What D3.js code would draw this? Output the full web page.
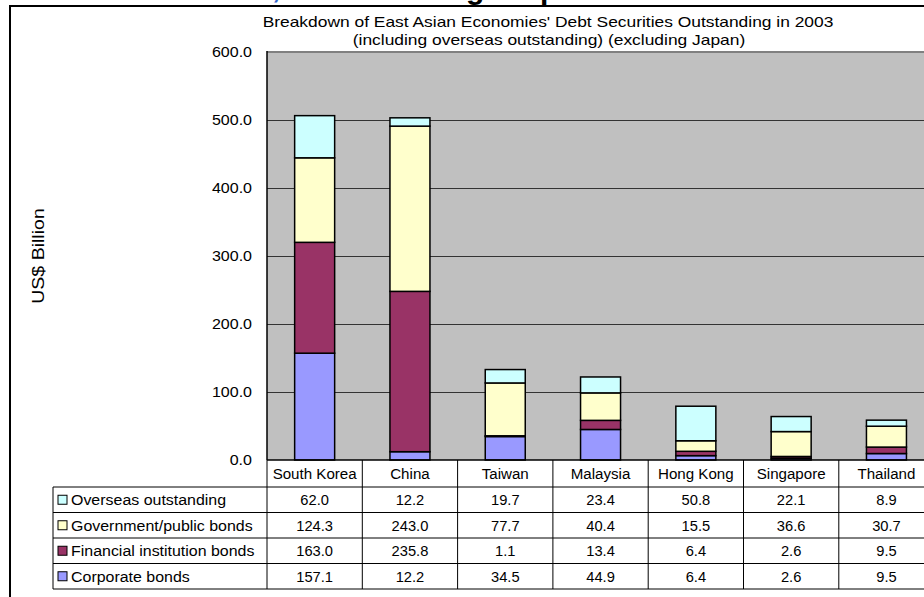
<!DOCTYPE html>
<html>
<head>
<meta charset="utf-8">
<script src="https://cdn.jsdelivr.net/npm/d3@7"></script>
<style>
  html, body { margin: 0; padding: 0; background: #fff; }
  svg { display: block; font-family: "Liberation Sans", Arial, sans-serif; }
</style>
</head>
<body>
<svg id="chart" width="924" height="597"></svg>
<script>
// Debt securities outstanding, 2003, US$ billion
const categories = ["South Korea", "China", "Taiwan", "Malaysia", "Hong Kong", "Singapore", "Thailand"];
const seriesNames = ["Corporate bonds", "Financial institution bonds", "Government/public bonds", "Overseas outstanding"];
const corporate = [157.1, 12.2, 34.5, 44.9, 6.4, 2.6, 9.5];
const financial = [163.0, 235.8, 1.1, 13.4, 6.4, 2.6, 9.5];
const government = [124.3, 243.0, 77.7, 40.4, 15.5, 36.6, 30.7];
const overseas = [62.0, 12.2, 19.7, 23.4, 50.8, 22.1, 8.9];
const yTicks = [0, 100, 200, 300, 400, 500, 600];
const colors = ["#9999FF", "#993366", "#FFFFCC", "#CCFFFF"];

const seriesValues = [corporate, financial, government, overseas];
const rows = categories.map((c, i) => {
  const r = { category: c };
  seriesNames.forEach((s, k) => { r[s] = seriesValues[k][i]; });
  return r;
});
const stacked = d3.stack().keys(seriesNames)(rows);

const svg = d3.select("#chart");

const plotLeft = 267, plotTop = 52, plotBottom = 460;
const catW = 95.3;
const plotRight = plotLeft + catW * categories.length;

const x = d3.scaleBand().domain(categories).range([plotLeft, plotRight]).padding(0);
const y = d3.scaleLinear().domain([0, 600]).range([plotBottom, plotTop]);
const barW = 40;

// text with a slightly widened face
function label(parent, px, py, str, size, sx, anchor) {
  return parent.append("text")
    .attr("transform", `translate(${px},${py}) scale(${sx},1)`)
    .attr("text-anchor", anchor || "start")
    .attr("font-size", size).attr("fill", "#000")
    .text(str);
}

// outer frame
svg.append("path")
  .attr("d", `M10,597 L10,6 L924,6`)
  .attr("fill", "none").attr("stroke", "#000").attr("stroke-width", 2);

// partially visible heading above the frame
svg.append("text").attr("x", 272).attr("y", -2).attr("fill", "#3366cc")
  .attr("font-size", 30).attr("font-weight", "bold").text(",");
svg.append("text").attr("x", 466).attr("y", -1).attr("fill", "#000")
  .attr("font-size", 30).attr("font-weight", "bold").text("g");
svg.append("text").attr("x", 540).attr("y", -1).attr("fill", "#000")
  .attr("font-size", 30).attr("font-weight", "bold").text("p");

// chart title
label(svg, 548, 27, "Breakdown of East Asian Economies' Debt Securities Outstanding in 2003", 15, 1.16, "middle");
label(svg, 549, 45, "(including overseas outstanding) (excluding Japan)", 15, 1.16, "middle");

// plot background
svg.append("rect")
  .attr("x", plotLeft).attr("y", plotTop)
  .attr("width", plotRight - plotLeft).attr("height", plotBottom - plotTop)
  .attr("fill", "#C0C0C0");
svg.append("line")
  .attr("x1", plotLeft).attr("x2", plotRight).attr("y1", plotTop).attr("y2", plotTop)
  .attr("stroke", "#808080").attr("stroke-width", 2);

// gridlines
const grid = svg.append("g").attr("transform", `translate(${plotLeft},0)`)
  .call(d3.axisLeft(y).tickValues(yTicks.filter(t => t > 0 && t < 600))
    .tickSize(-(plotRight - plotLeft)).tickFormat(""));
grid.select(".domain").remove();
grid.selectAll(".tick line").attr("stroke", "#333").attr("stroke-width", 1);

// y axis labels
const yAxis = svg.append("g").attr("transform", `translate(${plotLeft},0)`)
  .call(d3.axisLeft(y).tickValues(yTicks).tickSize(0).tickPadding(15).tickFormat(d3.format(".1f")));
yAxis.select(".domain").remove();
yAxis.selectAll(".tick text")
  .attr("font-size", 15).attr("fill", "#000")
  .attr("font-family", "Liberation Sans, Arial, sans-serif")
  .attr("transform", function () {
    const tx = +d3.select(this).attr("x");
    return `translate(${tx},0) scale(1.07,1) translate(${-tx},0)`;
  });

// axis line
svg.append("line").attr("x1", plotLeft).attr("x2", plotLeft)
  .attr("y1", plotTop - 1).attr("y2", plotBottom).attr("stroke", "#000").attr("stroke-width", 1.5);

// y axis title
svg.append("text")
  .attr("transform", `translate(44,${(plotTop + plotBottom) / 2}) rotate(-90) scale(1.15,1)`)
  .attr("text-anchor", "middle").attr("font-size", 17).attr("fill", "#000")
  .text("US$ Billion");

// stacked bars
svg.append("g").selectAll("g").data(stacked).join("g")
  .attr("fill", (d, i) => colors[i])
  .selectAll("rect").data(d => d).join("rect")
  .attr("x", d => x(d.data.category) + x.bandwidth() / 2 - barW / 2)
  .attr("y", d => y(d[1]))
  .attr("width", barW)
  .attr("height", d => y(d[0]) - y(d[1]))
  .attr("stroke", "#000").attr("stroke-width", 1.5);

// data table
const headerH = 27, rowH = 25.5;
const tableTop = plotBottom, legendLeft = 53;
const rowsTop = tableTop + headerH;
const tableRows = seriesNames.slice().reverse();
const tableBottom = rowsTop + rowH * tableRows.length;
const table = svg.append("g");

// category header
categories.forEach(c => {
  label(table, x(c) + x.bandwidth() / 2, tableTop + 19, c, 14, 1.08, "middle");
});

// row borders
table.selectAll("line.h").data(d3.range(tableRows.length + 1)).join("line").attr("class", "h")
  .attr("x1", legendLeft).attr("x2", plotRight)
  .attr("y1", i => rowsTop + i * rowH).attr("y2", i => rowsTop + i * rowH)
  .attr("stroke", "#000").attr("stroke-width", 1);
table.append("line").attr("x1", plotLeft).attr("x2", plotRight)
  .attr("y1", tableTop).attr("y2", tableTop).attr("stroke", "#000").attr("stroke-width", 1.5);

// column borders
table.selectAll("line.v").data(categories.slice(1)).join("line").attr("class", "v")
  .attr("x1", d => x(d)).attr("x2", d => x(d))
  .attr("y1", tableTop).attr("y2", tableBottom)
  .attr("stroke", "#000").attr("stroke-width", 1);
table.append("line").attr("x1", plotLeft).attr("x2", plotLeft)
  .attr("y1", tableTop).attr("y2", tableBottom).attr("stroke", "#000").attr("stroke-width", 1);
table.append("line").attr("x1", legendLeft).attr("x2", legendLeft)
  .attr("y1", rowsTop).attr("y2", tableBottom).attr("stroke", "#000").attr("stroke-width", 1);

// row legend and values
tableRows.forEach((s, r) => {
  const g = table.append("g").attr("transform", `translate(0,${rowsTop + r * rowH})`);
  const k = seriesNames.indexOf(s);
  g.append("rect")
    .attr("x", legendLeft + 5).attr("y", rowH / 2 - 4.5).attr("width", 9).attr("height", 9)
    .attr("fill", colors[k]).attr("stroke", "#000").attr("stroke-width", 1);
  label(g, legendLeft + 18, rowH / 2 + 5.5, s, 14.5, 1.1, "start");
  categories.forEach((c, i) => {
    label(g, x(c) + x.bandwidth() / 2, rowH / 2 + 5.5, d3.format(".1f")(seriesValues[k][i]), 14, 1.05, "middle");
  });
});
</script>
</body>
</html>
